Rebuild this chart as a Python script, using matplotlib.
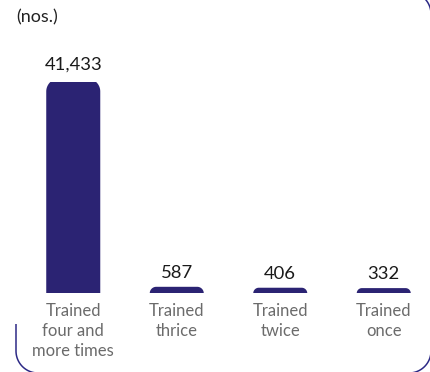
import numpy as np
import matplotlib
matplotlib.use('Agg')
import matplotlib.pyplot as plt
from matplotlib.lines import Line2D

# Chart data
categories = ['Trained\nfour and\nmore times', 'Trained\nthrice', 'Trained\ntwice', 'Trained\nonce']
values = [41433, 587, 406, 332]
value_labels = ['41,433', '587', '406', '332']
unit_label = '(nos.)'

bar_color = '#2b2373'
frame_color = '#2d2a86'
W, H = 430, 372

plt.rcParams['font.family'] = ['Lato', 'DejaVu Sans']

fig = plt.figure(figsize=(W / 100, H / 100), dpi=100)
ax = fig.add_axes([21.5 / W, 78.7 / H, 414 / W, 211.3 / H])
ax.set_xlim(-0.5, len(values) - 0.5)
ax.set_ylim(0, max(values))
ax.axis('off')

bar_w = 0.522
cap_px = 3.5


def rounded_bar(xc, v, r_max):
    # build the outline in pixel space, then map back to data
    (xl, yb), (xr, yv) = ax.transData.transform([(xc - bar_w / 2, 0), (xc + bar_w / 2, v)])
    yt = yv + cap_px
    r = min(r_max, yt - yb)
    t1 = np.radians(np.linspace(180, 90, 25))
    t2 = np.radians(np.linspace(90, 0, 25))
    xs = np.concatenate([[xl], xl + r + r * np.cos(t1), xr - r + r * np.cos(t2), [xr]])
    ys = np.concatenate([[yb], yt - r + r * np.sin(t1), yt - r + r * np.sin(t2), [yb]])
    pts = ax.transData.inverted().transform(np.column_stack([xs, ys]))
    return pts[:, 0], pts[:, 1], ax.transData.inverted().transform((xc, yt))[1]


for i, v in enumerate(values):
    bx, by, top = rounded_bar(i, v, 13)
    ax.fill(bx, by, color=bar_color, linewidth=0)
    ax.annotate(value_labels[i], xy=(i, top), xytext=(0, 9),
                textcoords='offset pixels', ha='center', va='baseline',
                fontsize=13.3, color='#1a1a1a', annotation_clip=False)
    ax.annotate(categories[i], xy=(i, 0), xytext=(0, -10),
                textcoords='offset pixels', ha='center', va='top',
                fontsize=12, color='#6b6b6b', linespacing=1.3,
                annotation_clip=False)

fig.text(16 / W, 1 - 22.5 / H, unit_label, ha='left', va='baseline',
         fontsize=13, color='#222222')

# rounded frame (partly outside the canvas)
def arc(cx, cy, r, a0, a1):
    t = np.radians(np.linspace(a0, a1, 30))
    return cx + r * np.cos(t), cy + r * np.sin(t)

xs, ys = [16.0], [324.0]
ax_, ay_ = arc(38, 351, 22, 180, 90)
xs += list(ax_); ys += list(ay_)
bx, by = arc(409, 351, 22, 90, 0)
xs += list(bx); ys += list(by)
cx, cy = arc(409, 14, 22, 0, -90)
xs += list(cx); ys += list(cy)
xs = np.array(xs) / W
ys = 1 - np.array(ys) / H
fig.add_artist(Line2D(xs, ys, transform=fig.transFigure, color=frame_color,
                      linewidth=1.1, solid_capstyle='butt'))

fig.savefig('out.png', dpi=100)
